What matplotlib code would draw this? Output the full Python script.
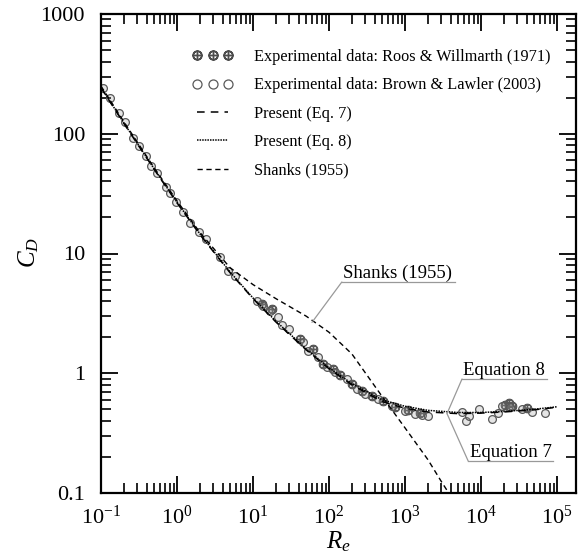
import matplotlib.pyplot as plt
from matplotlib.ticker import FuncFormatter, NullFormatter, LogLocator

plt.rcParams['font.family'] = 'Liberation Serif'
plt.rcParams['mathtext.fontset'] = 'custom'
plt.rcParams['mathtext.rm'] = 'Liberation Serif'
plt.rcParams['mathtext.it'] = 'Liberation Serif:italic'
plt.rcParams['axes.unicode_minus'] = False

# model curves
re_curve = [0.1, 0.2, 0.5, 1, 2, 5, 10, 20, 50, 100, 200, 500,
            1e3, 2e3, 5e3, 1e4, 2e4, 5e4, 1e5]
cd_eq7 = [242, 122, 50.5, 26.5, 14.4, 6.9, 4.2, 2.68, 1.57, 1.09, 0.80, 0.58,
          0.51, 0.475, 0.46, 0.465, 0.475, 0.495, 0.52]
cd_eq8 = [244, 123, 51, 26.8, 14.6, 7.0, 4.25, 2.72, 1.60, 1.11, 0.82, 0.60,
          0.53, 0.49, 0.47, 0.47, 0.48, 0.50, 0.525]

re_shanks = [0.1, 0.2, 0.5, 1, 2, 5, 10, 20, 50, 100, 200, 500, 1000, 2000, 3000, 4000]
cd_shanks = [250, 126, 52, 27.5, 15.0, 7.6, 5.5, 4.2, 3.0, 2.2, 1.45, 0.64, 0.35, 0.19, 0.125, 0.094]

# experimental data
re_brown = [0.106, 0.131, 0.173, 0.207, 0.264, 0.316, 0.391, 0.455, 0.546, 0.717,
            0.809, 0.97, 1.2, 1.48, 1.95, 2.41, 3.68, 4.69, 5.8, 11.3,
            13.5, 16.7, 21.3, 24.1, 29.8, 45.5, 53, 71.7, 94.2, 120,
            173, 234, 298, 441, 675, 1000, 1355, 1676, 2010, 5620,
            6350, 6950, 9420, 13960, 16750, 18900, 24100, 34600, 46900, 69500]
cd_brown = [242, 200, 150, 126, 92.7, 79.4, 65.6, 54.1, 47.3, 36.2,
            32.2, 27.1, 22.4, 18.1, 15.0, 13.1, 9.27, 7.08, 6.43, 3.98,
            3.62, 3.29, 2.93, 2.51, 2.33, 1.81, 1.52, 1.36, 1.12, 1.02,
            0.89, 0.736, 0.668, 0.607, 0.531, 0.483, 0.455, 0.447, 0.438, 0.473,
            0.398, 0.438, 0.501, 0.414, 0.464, 0.531, 0.521, 0.501, 0.473, 0.464]

re_roos = [13.1, 17.8, 41.5, 61.5, 83.4, 113, 140, 201, 272, 368,
           514, 738, 1090, 1570, 20700, 23400, 25600, 40300]
cd_roos = [3.76, 3.41, 1.92, 1.58, 1.19, 1.08, 0.962, 0.809, 0.708, 0.643,
           0.584, 0.521, 0.492, 0.464, 0.541, 0.562, 0.531, 0.511]

fig = plt.figure(figsize=(5.81, 5.57), dpi=100)
ax = fig.add_axes([101/581, 1 - 493/557, 475/581, 479/557])

ax.plot(re_roos, cd_roos, linestyle='none', marker=r'$\oplus$', ms=6,
        color='0.35', label='Experimental data: Roos & Willmarth (1971)')
ax.plot(re_brown, cd_brown, linestyle='none', marker='o', ms=5.6,
        mfc=(0.6, 0.6, 0.6, 0.25), mec='0.35', mew=0.9,
        label='Experimental data: Brown & Lawler (2003)')
ax.plot(re_curve, cd_eq7, color='k', lw=1.1, dashes=(5, 4), label='Present (Eq. 7)')
ax.plot(re_curve, cd_eq8, color='k', lw=1.1, dashes=(1, 0.7), label='Present (Eq. 8)')
ax.plot(re_shanks, cd_shanks, color='k', lw=1.0, dashes=(3.8, 2.6), label='Shanks (1955)')

ax.set_xscale('log')
ax.set_yscale('log')
ax.set_xlim(0.1, 10**5.25)
ax.set_ylim(0.1, 1000)

ax.xaxis.set_major_locator(LogLocator(base=10, numticks=20))
ax.xaxis.set_minor_locator(LogLocator(base=10, subs=range(2, 10), numticks=20))
ax.xaxis.set_minor_formatter(NullFormatter())
ax.yaxis.set_minor_formatter(NullFormatter())
ax.yaxis.set_major_formatter(FuncFormatter(lambda v, _: f'{v:g}'))

ax.tick_params(which='both', direction='in', top=True, right=True, labelsize=16)
ax.tick_params(which='major', length=12, width=1.3)
ax.tick_params(which='minor', length=7.5, width=1.2)
ax.tick_params(axis='y', pad=11.5)
ax.tick_params(axis='x', pad=9)
for s in ax.spines.values():
    s.set_linewidth(1.6)

ax.set_xlabel(r'$R_e$', fontsize=18)
ax.set_ylabel(r'$C_D$', fontsize=18)
ax.xaxis.set_label_coords(0.5, -0.077)
ax.yaxis.set_label_coords(-0.127, 0.503)

leg = ax.legend(loc='upper left', bbox_to_anchor=(0.192, 0.927), frameon=False,
                borderpad=0, borderaxespad=0, numpoints=3, fontsize=11.7,
                handlelength=2.5, handletextpad=1.3, labelspacing=0.76)
for h in leg.legend_handles[:2]:
    h.set_markersize(6.5)
    h.set_color('0.3')
    h.set_markerfacecolor('none')


def callout(text, xy, x0, x1, yline, ybase):
    ax.plot([x0, x1], [yline, yline], transform=ax.transAxes, color='0.6', lw=0.9)
    ax.annotate('', xy=xy, xycoords='data', xytext=(x0, yline), textcoords='axes fraction',
                arrowprops=dict(arrowstyle='-', color='0.6', lw=0.9, shrinkA=0, shrinkB=0))
    ax.text(x0 + 0.003, ybase, text, transform=ax.transAxes, fontsize=13.5, va='baseline')


callout('Shanks (1955)', (59.7, 2.66), 0.507, 0.745, 0.4405, 0.449)
callout('Equation 8', (3570, 0.46), 0.760, 0.939, 0.238, 0.246)
callout('Equation 7', (3570, 0.46), 0.773, 0.952, 0.0668, 0.075)

fig.savefig('out.png', dpi=100)
